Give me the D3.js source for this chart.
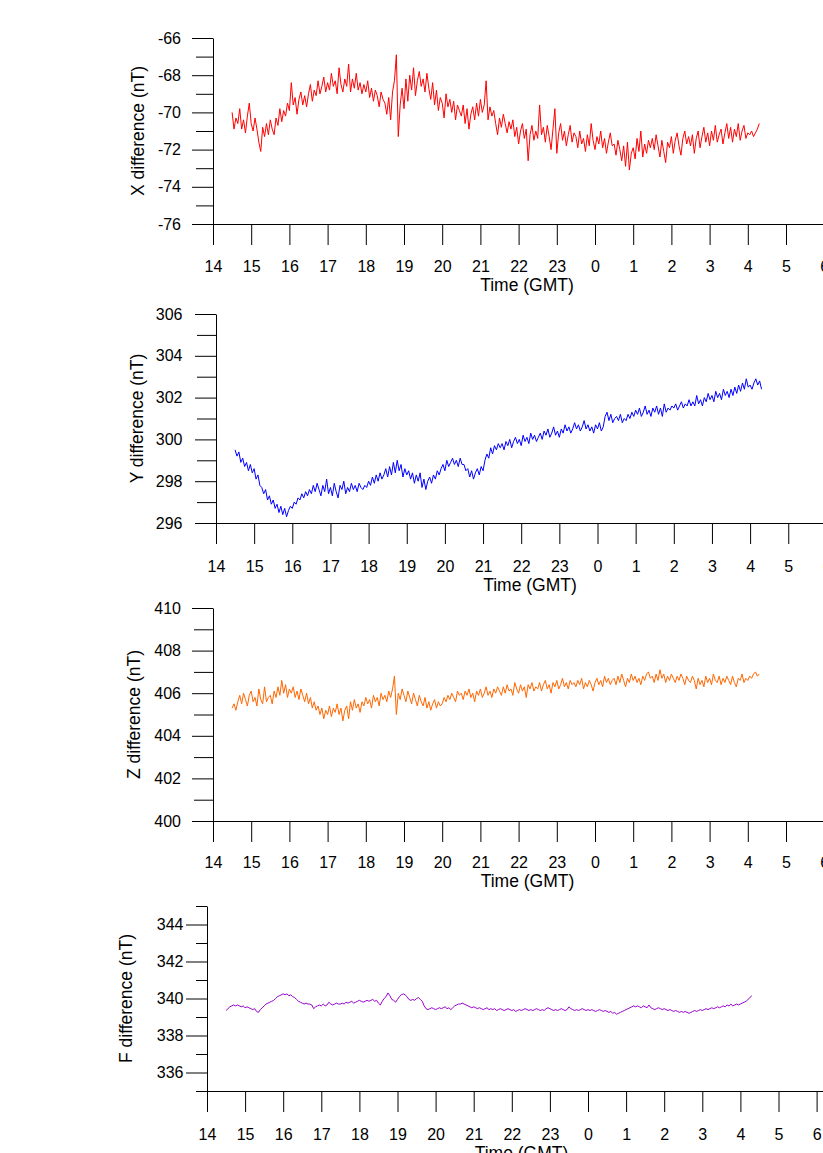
<!DOCTYPE html>
<html>
<head>
<meta charset="utf-8">
<script src="https://cdn.jsdelivr.net/npm/d3@7"></script>
<style>
  body { margin: 0; background: #fff; }
  svg { display: block; }
</style>
</head>
<body>
<script>
// samples every 3 minutes from 14:30 GMT onward
const startHour = 14.5;
const stepHours = 0.05;
const hourTicks = [14, 15, 16, 17, 18, 19, 20, 21, 22, 23, 24, 25, 26, 27, 28, 29, 30];

const xDiff = [
  -70.0, -70.9, -70.3, -70.6, -69.8, -70.9, -70.4, -71.1, -70.2, -69.5, -70.6, -71.0, -70.3, -70.9, -71.6, -72.1, -70.8, -71.3, -70.6, -71.2,
  -70.4, -70.9, -71.2, -70.3, -70.7, -69.8, -70.5, -69.9, -70.2, -69.5, -69.9, -68.4, -69.6, -69.2, -70.1, -69.3, -68.9, -69.6, -69.1, -69.7,
  -69.0, -68.5, -69.4, -68.8, -69.1, -68.3, -69.0, -68.6, -68.1, -68.9, -68.4, -68.8, -67.9, -68.6, -68.3, -69.0, -67.6, -68.5, -68.9, -68.2,
  -68.6, -67.4, -68.9, -68.2, -68.7, -67.9, -68.8, -68.4, -69.0, -68.5, -68.9, -68.3, -69.2, -68.7, -69.4, -68.8, -69.1, -69.7, -68.9, -69.3,
  -69.5, -70.1, -69.2, -70.4, -68.9, -68.3, -66.9, -71.3, -69.6, -68.7, -69.8, -68.2, -69.4, -68.0, -68.8, -67.6, -69.1, -68.3, -67.8, -68.6,
  -68.2, -68.9, -67.9, -68.7, -69.3, -68.4, -69.6, -68.8, -69.9, -69.2, -69.5, -70.3, -69.0, -69.7, -69.3, -70.0, -69.4, -70.4, -69.6, -69.9,
  -70.2, -69.6, -70.6, -69.8, -70.9, -70.1, -69.7, -70.4, -69.5, -70.2, -69.3, -70.0, -69.6, -68.3, -70.4, -69.7, -70.2, -69.9, -70.6, -71.2,
  -70.3, -70.8, -70.1, -70.6, -71.1, -70.5, -70.9, -70.4, -71.3, -70.8, -71.7, -71.0, -70.6, -71.4, -70.9, -72.6, -71.2, -70.7, -71.5, -71.0,
  -71.4, -69.6, -71.2, -70.8, -71.6, -70.7, -71.3, -72.0, -70.9, -69.8, -72.2, -71.1, -70.6, -71.5, -71.0, -71.8, -71.2, -70.7, -71.6, -71.1,
  -71.3, -71.9, -71.0, -71.7, -71.4, -72.1, -71.2, -71.8, -70.6, -71.5, -72.0, -71.3, -71.7, -71.0, -71.9, -71.4, -72.2, -71.6, -71.1, -71.8,
  -71.7, -72.3, -71.5, -72.0, -72.6, -71.8, -72.9, -71.6, -73.1, -72.2, -71.9, -72.5, -71.4, -72.1, -71.0, -72.4, -71.7, -72.2, -71.5, -71.9,
  -71.4, -72.0, -71.2, -71.8, -72.4, -71.5, -72.1, -72.7, -71.6, -71.9, -71.3, -72.2, -71.5, -71.1, -71.8, -72.3, -71.4, -71.0, -71.7, -71.3,
  -71.8, -71.2, -72.2, -71.4, -71.0, -71.9, -71.3, -70.8, -71.6, -71.1, -71.8, -71.0, -71.5, -70.7, -71.6, -71.2, -70.9, -71.7, -71.1, -70.6,
  -71.4, -70.8, -71.6, -70.9, -71.3, -70.6, -71.5, -71.0, -70.7, -71.4, -71.1, -71.2, -71.0, -71.3, -71.1, -70.9, -70.6
];

const yDiff = [
  299.5, 299.2, 299.4, 298.9, 299.1, 298.7, 298.9, 298.5, 298.8, 298.4, 298.6, 298.1, 298.3, 297.8, 297.7, 297.4, 297.6, 297.1, 297.3, 296.9,
  297.1, 296.7, 296.9, 296.5, 296.8, 296.4, 296.7, 296.3, 296.6, 296.8, 296.7, 297.0, 296.9, 297.2, 297.1, 297.4, 297.2, 297.5, 297.3, 297.6,
  297.4, 297.8, 297.5, 297.9, 297.6, 297.3, 297.8, 297.5, 298.1, 297.4, 297.7, 297.3, 297.9, 297.5, 297.2, 297.8, 297.6, 298.0, 297.4, 297.7,
  297.5, 297.9, 297.6, 297.8, 297.5, 297.9, 297.7, 297.6, 297.8, 297.7, 298.0, 297.8, 298.2, 297.9, 298.3, 298.0, 298.4, 298.1, 298.3, 298.6,
  298.2, 298.7, 298.3, 298.9, 298.4, 299.0, 298.5, 298.8, 298.2, 298.6, 298.3, 298.5, 298.1, 298.4, 297.9, 298.3, 298.0, 298.4, 297.7, 298.1,
  297.6, 298.0, 298.2, 297.9, 298.3, 298.1, 298.5, 298.3, 298.6, 298.8, 298.5, 299.0, 298.7, 298.9, 299.1, 298.8, 299.0, 298.7, 299.1, 298.8,
  298.8, 298.5, 298.6, 298.2, 298.5, 298.1, 298.4, 298.6, 298.3, 298.7, 298.5, 299.0, 299.3, 299.1, 299.6, 299.3, 299.7, 299.5, 299.8, 299.6,
  299.8, 299.5, 299.9, 299.7, 300.0, 299.6, 299.9, 300.1, 299.8, 300.0, 299.7, 300.2, 299.9, 300.1, 299.8, 300.3, 300.0, 300.2, 299.9, 300.1,
  300.3, 300.0, 300.4, 300.2, 300.5, 300.1, 300.3, 300.6, 300.2, 300.4, 300.1, 300.5, 300.3, 300.7, 300.4, 300.6, 300.3, 300.5, 300.8, 300.5,
  300.7, 300.4, 300.6, 300.9, 300.5, 300.7, 300.4, 300.6, 300.3, 300.7, 300.5, 300.8, 300.4, 300.6, 301.1, 301.3, 300.9, 301.2, 300.8, 301.0,
  301.1, 300.9, 301.2, 300.8, 301.0, 300.9, 301.2, 301.0, 301.3, 301.1, 301.4, 301.2, 301.5, 301.1, 301.3, 301.6, 301.2, 301.4, 301.1, 301.5,
  301.3, 301.6, 301.2, 301.5, 301.1, 301.7, 301.3, 301.5, 301.4, 301.6, 301.5, 301.7, 301.4, 301.6, 301.8, 301.5, 301.7, 301.6, 301.9, 301.6,
  301.8, 301.6, 302.1, 301.7, 301.9, 301.6, 302.0, 301.8, 302.2, 301.9, 302.1, 301.8, 302.3, 302.0, 302.2, 301.9, 302.4, 302.1, 302.3, 302.0,
  302.4, 302.1, 302.5, 302.2, 302.6, 302.3, 302.7, 302.4, 302.9, 302.5, 302.6, 302.4, 302.7, 302.9, 302.6, 302.8, 302.4
];

const zDiff = [
  405.3, 405.5, 405.2, 405.6, 405.9, 405.5, 406.0, 405.7, 405.4, 405.9, 406.1, 405.6, 405.8, 405.4, 406.2, 405.7, 405.5, 406.3, 405.6, 405.8,
  405.9, 405.5, 406.1, 405.8, 406.3, 405.9, 406.6, 406.0, 406.4, 405.8, 406.2, 406.0, 406.3, 405.8, 406.1, 405.7, 406.2, 405.9, 405.6, 406.0,
  405.5, 405.8, 405.3, 405.6, 405.2, 405.4, 405.0, 405.3, 404.8, 405.2, 405.0, 405.4, 404.9, 405.3, 405.1, 405.5, 405.0, 405.3, 404.7, 405.2,
  405.4, 404.8, 405.6, 405.2, 405.7, 405.3, 405.5, 405.1, 405.6, 405.4, 405.8, 405.5, 405.7, 405.3, 405.9, 405.6, 405.8, 405.4, 406.0, 405.7,
  405.9, 405.6, 406.1, 405.8, 406.2, 406.8, 405.0, 406.0, 405.7, 406.2, 405.9, 405.6, 406.1, 405.8, 405.5, 406.0, 405.7, 405.4, 405.9, 405.6,
  405.4, 405.8, 405.3, 405.6, 405.2, 405.5, 405.7, 405.3, 405.6, 405.4, 405.5, 405.8, 405.6, 405.9, 405.7, 406.0, 405.8, 405.6, 406.1, 405.9,
  406.0, 405.7, 406.1, 405.9, 406.2, 405.8, 406.0, 405.6, 406.1, 405.9, 406.2, 405.8, 406.0, 406.3, 405.9, 406.1, 405.8, 406.2, 406.0, 406.3,
  406.1, 405.9, 406.3, 406.0, 406.4, 406.1, 406.2, 405.9, 406.5, 406.2, 406.0, 406.4, 406.1, 406.3, 405.8, 406.4, 406.2, 406.5, 406.1, 406.3,
  406.2, 406.5, 406.1, 406.4, 406.6, 406.2, 406.4, 406.0, 406.5, 406.3, 406.6, 406.2, 406.4, 406.7, 406.3, 406.5, 406.2, 406.6, 406.4, 406.5,
  406.3, 406.6, 406.4, 406.7, 406.2, 406.5, 406.3, 406.6, 406.4, 406.1, 406.5, 406.7, 406.4, 406.6, 406.3, 406.8, 406.5, 406.7, 406.4, 406.6,
  406.7, 406.4, 406.8, 406.5, 406.9, 406.6, 406.3, 406.7, 406.5, 406.9, 406.6, 406.8, 406.5, 406.7, 406.4, 406.8, 406.6, 406.9, 407.0, 406.7,
  406.8, 406.5, 406.9, 406.6, 407.1, 406.7, 406.9, 406.5, 406.8, 406.6, 406.9, 406.7, 406.5, 406.8, 406.6, 406.9, 406.7, 406.4, 406.8, 406.6,
  406.5, 406.8, 406.6, 406.2, 406.7, 406.4, 406.6, 406.3, 406.8, 406.5, 406.7, 406.4, 406.9, 406.6, 406.5, 406.8, 406.4, 406.7, 406.5, 406.8,
  406.6, 406.4, 406.8, 406.5, 406.3, 406.7, 406.6, 406.9, 406.5, 406.7, 406.6, 406.8, 406.7, 406.9, 407.0, 406.8, 406.9
];

const fDiff = [
  339.35, 339.45, 339.55, 339.6, 339.65, 339.6, 339.65, 339.6, 339.55, 339.6, 339.5, 339.55, 339.5, 339.45, 339.4, 339.45, 339.3, 339.25, 339.4, 339.5,
  339.6, 339.7, 339.75, 339.8, 339.85, 339.9, 340.0, 340.1, 340.15, 340.2, 340.25, 340.2, 340.25, 340.15, 340.2, 340.1, 340.05, 339.95, 339.85, 339.8,
  339.75, 339.7, 339.75, 339.7, 339.7, 339.65, 339.45, 339.55, 339.6, 339.65, 339.6, 339.7, 339.6, 339.65, 339.8, 339.7, 339.65, 339.7, 339.75, 339.7,
  339.7, 339.75, 339.7, 339.8, 339.75, 339.8, 339.85, 339.75, 339.8, 339.85, 339.9, 339.85, 339.8, 339.85, 339.9, 339.85, 339.9, 339.95, 339.85, 339.9,
  339.75, 339.65, 339.85, 340.0, 340.1, 340.3, 340.15, 339.95, 339.9, 339.8, 339.95, 340.1, 340.2, 340.25, 340.2, 340.1, 339.95, 339.9, 339.95, 339.9,
  340.0, 340.05, 339.95, 339.85, 339.6, 339.45, 339.4, 339.45, 339.5, 339.45, 339.4, 339.45, 339.5, 339.45, 339.5, 339.55, 339.45, 339.5, 339.4, 339.5,
  339.6, 339.65, 339.7, 339.7, 339.75, 339.7, 339.65, 339.6, 339.55, 339.5, 339.55, 339.5, 339.45, 339.5, 339.45, 339.4, 339.45, 339.5, 339.4, 339.45,
  339.4, 339.45, 339.35, 339.4, 339.45, 339.4, 339.35, 339.4, 339.45, 339.4, 339.35, 339.4, 339.3, 339.35, 339.4, 339.35, 339.4, 339.45, 339.4, 339.35,
  339.4, 339.35, 339.4, 339.45, 339.4, 339.35, 339.4, 339.35, 339.45, 339.5, 339.45, 339.4, 339.35, 339.4, 339.35, 339.4, 339.45, 339.4, 339.35, 339.4,
  339.55, 339.45, 339.4, 339.35, 339.4, 339.35, 339.4, 339.45, 339.4, 339.35, 339.4, 339.35, 339.4, 339.35, 339.3, 339.35, 339.4, 339.35, 339.3, 339.35,
  339.3, 339.25, 339.3, 339.2, 339.25, 339.15, 339.2, 339.25, 339.3, 339.35, 339.4, 339.45, 339.5, 339.55, 339.6, 339.55, 339.6, 339.55, 339.5, 339.6,
  339.55, 339.5, 339.65, 339.5, 339.45, 339.4, 339.45, 339.5, 339.45, 339.4, 339.45, 339.4, 339.35, 339.4, 339.35, 339.3, 339.35, 339.3, 339.25, 339.3,
  339.25, 339.3, 339.25, 339.2, 339.25, 339.3, 339.35, 339.3, 339.35, 339.4, 339.35, 339.4, 339.45, 339.4, 339.45, 339.5, 339.45, 339.5, 339.55, 339.5,
  339.55, 339.6, 339.55, 339.65, 339.6, 339.7, 339.6, 339.65, 339.7, 339.65, 339.7, 339.75, 339.8, 339.85, 339.95, 340.05, 340.15
];

// axis ticks for each panel
const xMajor = [-76, -74, -72, -70, -68, -66];
const xMinor = [-75, -73, -71, -69, -67];
const yMajor = [296, 298, 300, 302, 304, 306];
const yMinor = [297, 299, 301, 303, 305];
const zMajor = [400, 402, 404, 406, 408, 410];
const zMinor = [401, 403, 405, 407, 409];
const fMajor = [336, 338, 340, 342, 344];
const fMinor = [335, 337, 339, 341, 343, 345];

const w = 823;
const h = 1153;
const font = "'Liberation Sans', Arial, sans-serif";

const panels = [
  { values: xDiff, label: "X difference (nT)", color: "#ff0000", domain: [-76, -66], major: xMajor, minor: xMinor,
    x0: 213, top: 38, bottom: 224, pxh: 38.2, pad: 11, minorLen: 17, tickY: 48, titleY: 66.5, titleX: 527, labelX: 144 },
  { values: yDiff, label: "Y difference (nT)", color: "#0000ff", domain: [296, 306], major: yMajor, minor: yMinor,
    x0: 216, top: 314, bottom: 523, pxh: 38.15, pad: 12.5, minorLen: 19, tickY: 49, titleY: 68, titleX: 530, labelX: 142.5 },
  { values: zDiff, label: "Z difference (nT)", color: "#ff6600", domain: [400, 410], major: zMajor, minor: zMinor,
    x0: 213, top: 608, bottom: 821, pxh: 38.2, pad: 11, minorLen: 19, tickY: 47, titleY: 66, titleX: 527.5, labelX: 140 },
  { values: fDiff, label: "F difference (nT)", color: "#9900cc", domain: [335, 345], major: fMajor, minor: fMinor,
    x0: 207, top: 906, bottom: 1091, pxh: 38.1, pad: 2.5, minorLen: 11, tickY: 49, titleY: 68, titleX: 521.5, labelX: 132 }
];

const svg = d3.select("body").append("svg").attr("width", w).attr("height", h);

panels.forEach((p) => {
  const xScale = d3.scaleLinear().domain([14, 31]).range([p.x0, p.x0 + 17 * p.pxh]);
  const yScale = d3.scaleLinear().domain(p.domain).range([p.bottom, p.top]);

  /* Y axis, labelled every 2 nT with minor ticks between */
  const yAxis = svg
    .append("g")
    .attr("transform", `translate(${p.x0}, 0)`)
    .call(d3.axisLeft(yScale).tickValues(p.major).tickSize(21).tickSizeOuter(0).tickPadding(p.pad).tickFormat((d) => String(d)));
  yAxis.selectAll("text").attr("font-size", 16).attr("font-family", font).attr("fill", "#000");

  svg
    .append("g")
    .attr("transform", `translate(${p.x0}, 0)`)
    .call(d3.axisLeft(yScale).tickValues(p.minor).tickSize(p.minorLen).tickFormat(""))
    .call((g) => g.select(".domain").remove());

  /* X axis, hours GMT */
  const xAxis = svg
    .append("g")
    .attr("transform", `translate(0, ${p.bottom})`)
    .call(d3.axisBottom(xScale).tickValues(hourTicks).tickSize(21).tickSizeOuter(0).tickFormat((d) => d % 24));
  xAxis
    .selectAll("text")
    .attr("y", p.tickY)
    .attr("dy", null)
    .attr("font-size", 16)
    .attr("font-family", font)
    .attr("fill", "#000");

  svg
    .append("text")
    .attr("x", p.titleX)
    .attr("y", p.bottom + p.titleY)
    .attr("text-anchor", "middle")
    .attr("font-size", 17.5)
    .attr("font-family", font)
    .text("Time (GMT)");

  svg
    .append("text")
    .attr("transform", `translate(${p.labelX}, ${(p.top + p.bottom) / 2}) rotate(-90)`)
    .attr("text-anchor", "middle")
    .attr("font-size", 17.5)
    .attr("font-family", font)
    .text(p.label);

  // the trace
  const line = d3
    .line()
    .x((d, i) => xScale(startHour + i * stepHours))
    .y((d) => yScale(d));

  svg
    .append("path")
    .datum(p.values)
    .attr("fill", "none")
    .attr("stroke", p.color)
    .attr("stroke-width", 1)
    .attr("stroke-linejoin", "round")
    .attr("d", line);
});
</script>
</body>
</html>
